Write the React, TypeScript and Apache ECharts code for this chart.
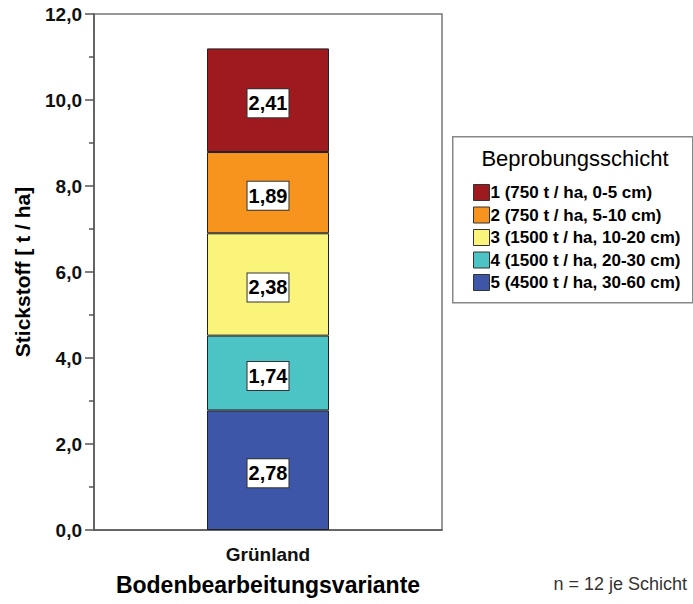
import React, { useEffect, useRef } from "react";
import * as echarts from "echarts";

const categories = ["Grünland"];
const layerNames = [
  "1 (750 t / ha, 0-5 cm)",
  "2 (750 t / ha, 5-10 cm)",
  "3 (1500 t / ha, 10-20 cm)",
  "4 (1500 t / ha, 20-30 cm)",
  "5 (4500 t / ha, 30-60 cm)",
];
const layerValues = [2.41, 1.89, 2.38, 1.74, 2.78];
const layerColors = ["#9E1A1E", "#F7941D", "#FAF57A", "#4CC3C4", "#3D56A7"];
const yTicks = { min: 0, max: 12, interval: 2 };

const FONT = "'Liberation Sans', Arial, sans-serif";
const comma = (v: number, d: number) => v.toFixed(d).replace(".", ",");

export default function App() {
  const ref = useRef<HTMLDivElement>(null);
  useEffect(() => {
    if (!ref.current) return;
    const chart = echarts.init(ref.current, undefined, { renderer: "svg" });
    const series = layerNames
      .map((name, i) => ({
        name,
        type: "bar" as const,
        stack: "total",
        barWidth: 122,
        data: [layerValues[i]],
        itemStyle: { color: layerColors[i], borderColor: "#222", borderWidth: 1 },
        label: {
          show: true,
          position: "inside" as const,
          offset: [0, 3],
          formatter: (p: any) => comma(p.value, 2),
          color: "#000",
          fontFamily: FONT,
          fontWeight: "bold" as const,
          fontSize: 20,
          lineHeight: 22,
          backgroundColor: "#fff",
          borderColor: "#333",
          borderWidth: 1,
          padding: [3, 1, 3, 1],
        },
      }))
      .reverse();

    chart.setOption({
      animation: false,
      textStyle: { fontFamily: FONT },
      grid: {
        left: 94,
        top: 14,
        width: 348,
        height: 516,
        show: true,
        borderColor: "#777",
        borderWidth: 1.5,
        backgroundColor: "#fff",
      },
      legend: {
        orient: "vertical",
        left: 468,
        top: 179,
        itemWidth: 16,
        itemHeight: 16,
        itemGap: 5.5,
        data: layerNames,
        icon: "rect",
        itemStyle: { borderColor: "#333", borderWidth: 1 },
        textStyle: { fontFamily: FONT, fontWeight: "bold", fontSize: 17, color: "#000", padding: [0, 0, 0, -4] },
        selectedMode: false,
      },
      xAxis: {
        type: "category",
        data: categories,
        name: "Bodenbearbeitungsvariante",
        nameLocation: "middle",
        nameGap: 43,
        nameTextStyle: { fontFamily: FONT, fontWeight: "bold", fontSize: 23, color: "#000" },
        axisLine: { lineStyle: { color: "#555", width: 1.5 } },
        axisTick: { alignWithLabel: true, length: 11, lineStyle: { color: "#555", width: 1.5 } },
        axisLabel: { margin: 15, fontFamily: FONT, fontSize: 19, fontWeight: "bold", color: "#111" },
      },
      yAxis: {
        type: "value",
        min: yTicks.min,
        max: yTicks.max,
        interval: yTicks.interval,
        name: "Stickstoff [ t / ha]",
        nameLocation: "middle",
        nameGap: 61,
        nameTextStyle: { fontFamily: FONT, fontWeight: "bold", fontSize: 21, color: "#000" },
        splitLine: { show: false },
        axisLine: { show: true, lineStyle: { color: "#555", width: 1.5 } },
        axisTick: { show: true, length: 9, lineStyle: { color: "#555", width: 1.5 } },
        minorTick: { show: true, splitNumber: 2, length: 5, lineStyle: { color: "#555", width: 1.5 } },
        axisLabel: {
          margin: 12,
          fontFamily: FONT,
          fontSize: 19,
          fontWeight: "bold",
          color: "#111",
          formatter: (v: number) => comma(v, 1),
        },
      },
      graphic: [
        {
          type: "rect",
          left: 452,
          top: 136,
          shape: { width: 240, height: 166 },
          style: { fill: "#fff", stroke: "#888", lineWidth: 1.5 },
          z: -1,
        },
        {
          type: "text",
          x: 575,
          y: 158,
          style: {
            text: "Beprobungsschicht",
            fontFamily: FONT,
            fontSize: 22,
            fill: "#000",
            align: "center",
            verticalAlign: "middle",
          },
        },
        {
          type: "text",
          x: 687,
          y: 584,
          style: {
            text: "n = 12 je Schicht",
            fontFamily: FONT,
            fontSize: 18,
            fill: "#333",
            align: "right",
            verticalAlign: "middle",
          },
        },
      ],
      series,
    });
    return () => chart.dispose();
  }, []);
  return (
    <div
      ref={ref}
      style={{ position: "fixed", left: 0, top: 0, width: 693, height: 604, background: "#fff" }}
    />
  );
}
